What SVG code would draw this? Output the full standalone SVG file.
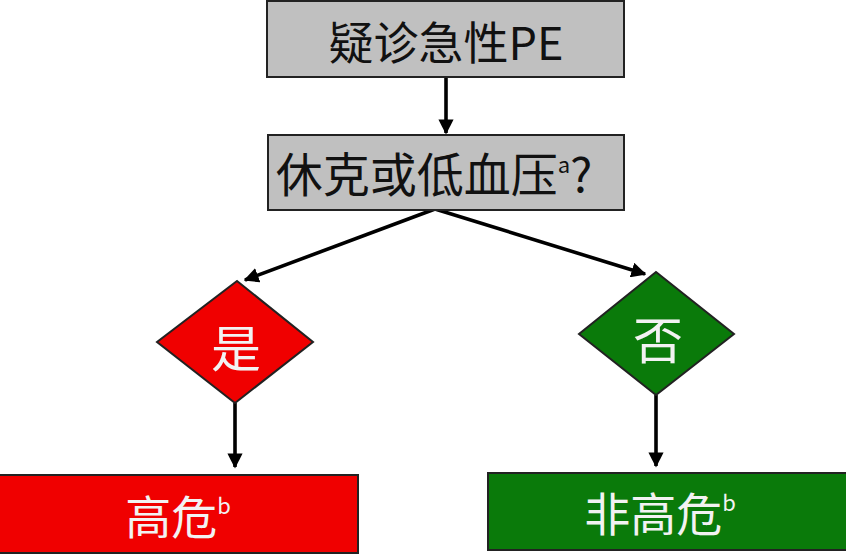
<svg xmlns="http://www.w3.org/2000/svg" width="846" height="556" viewBox="0 0 846 556">
<defs>
<marker id="ah" viewBox="0 0 10 10" refX="9" refY="5" markerWidth="4.2" markerHeight="4.2" orient="auto" markerUnits="strokeWidth">
<path d="M0,0 L10,5 L0,10 Z" fill="#000"/>
</marker>
<style>
.box{stroke:#222;stroke-width:2}
.gray{fill:#c0c0c0}
.red{fill:#f00000}
.green{fill:#0a7a0a}
.t{font-family:"Noto Sans CJK SC","Liberation Sans",sans-serif;text-anchor:middle;dominant-baseline:central}
.dark{fill:#111}
.light{fill:#f2f2f2}
.conn{stroke:#000;stroke-width:3.6;fill:none;marker-end:url(#ah)}
</style>
</defs>
<rect width="846" height="556" fill="#fff"/>
<g id="connectors">
<line class="conn" x1="446" y1="78" x2="446" y2="133"/>
<line class="conn" x1="435" y1="209" x2="245" y2="280"/>
<line class="conn" x1="435" y1="209" x2="645" y2="274"/>
<line class="conn" x1="235" y1="403" x2="235" y2="467"/>
<line class="conn" x1="656" y1="395" x2="656" y2="466"/>
</g>
<g id="n1">
<rect class="box gray" x="267" y="1" width="357" height="76"/>
<text class="t dark" x="446" y="40" font-size="45">疑诊急性PE</text>
</g>
<g id="n2">
<rect class="box gray" x="268" y="135" width="356" height="75"/>
<text class="t dark" x="434" y="171" font-size="47">休克或低血压<tspan font-size="22" dy="-8">a</tspan><tspan dy="8">?</tspan></text>
</g>
<g id="yes">
<polygon class="box red" points="237,281 313,342 235,403 157,342"/>
<text class="t light" x="236" y="345" font-size="50">是</text>
</g>
<g id="no">
<polygon class="box green" points="656,272 734,334 656,395 579,334"/>
<text class="t light" x="658" y="337" font-size="50">否</text>
</g>
<g id="high">
<rect class="box red" x="-2" y="475" width="360" height="78"/>
<text class="t light" x="178" y="514" font-size="46">高危<tspan font-size="22" dy="-10">b</tspan></text>
</g>
<g id="nonhigh">
<rect class="box green" x="488" y="473" width="362" height="77"/>
<text class="t light" x="660" y="511" font-size="46">非高危<tspan font-size="22" dy="-10">b</tspan></text>
</g>
</svg>
